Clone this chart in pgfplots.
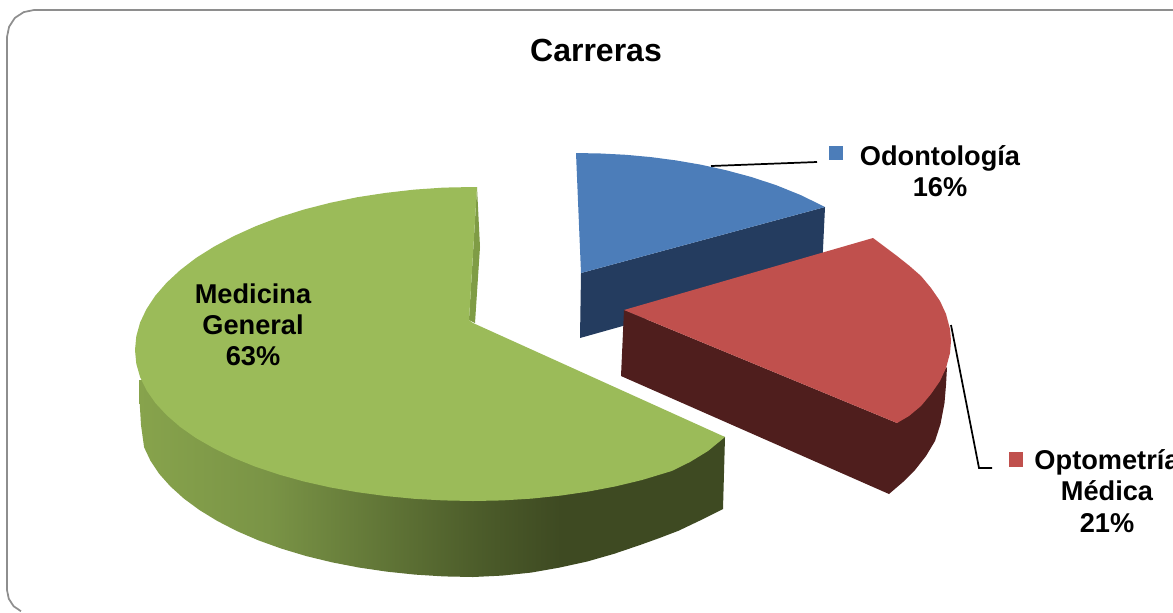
\documentclass[border=0pt]{standalone}
\usepackage{fontspec}
\setmainfont{Liberation Sans}
\usepackage{pgfplots}
\pgfplotsset{compat=1.18}

\definecolor{greentop}{HTML}{9BBB59}
\definecolor{greensliver}{HTML}{7F9C45}
\definecolor{bluetop}{HTML}{4C7DB9}
\definecolor{blueside}{HTML}{243C5F}
\definecolor{redtop}{HTML}{C0504D}
\definecolor{redside}{HTML}{4F1E1D}
\definecolor{frameline}{HTML}{8E8E8E}
\definecolor{gA}{HTML}{87A34C}
\definecolor{gB}{HTML}{7A9446}
\definecolor{gC}{HTML}{5E7235}
\definecolor{gD}{HTML}{4C5C2A}
\definecolor{gE}{HTML}{3E4A22}
\pgfdeclarehorizontalshading{greenside}{100bp}{color(0bp)=(gA); color(25bp)=(gA); color(36bp)=(gB); color(47bp)=(gC); color(54bp)=(gD); color(61bp)=(gE); color(100bp)=(gE)}

\newcommand{\lab}{\fontsize{20.4}{23.4}\selectfont\bfseries}

\begin{document}
\begin{tikzpicture}
\path[use as bounding box] (0,0) rectangle (879.75pt,459pt);
\begin{axis}[
    at={(0,0)}, anchor=south west,
    scale only axis, width=879.75pt, height=459pt,
    xmin=0, xmax=1173, ymin=0, ymax=612, y dir=reverse,
    axis lines=none, no markers, clip=true,
]
% frame
\addplot[draw=frameline, line width=1.3pt, fill=none] coordinates {
    (21,611.2) (13.7,606.3) (8.8,598.8) (7,590) (7,37) (9.1,26.7) (14.9,17.9) (23.7,12.1) (34,10) (1173,10)};

% blue slice
\addplot[draw=none, fill=blueside] coordinates {
    (581,273) (825,207) (822,270) (580,338)};
\addplot[draw=none, fill=bluetop] coordinates {
    (576,153) (601,153.5) (626,154.8) (651,157.1) (676,160.4) (701,164.7) (726,170.2)
    (751,176.9) (776,185.1) (801,195.2) (825,207) (581,273)};

% red slice
\addplot[draw=none, fill=redside] coordinates {
    (624,310) (897,423) (947,367) (946,385) (944.5,403) (940.5,424) (935,441) (926,456)
    (915,470) (903,482) (889,494) (621,376)};
\addplot[draw=none, fill=redtop] coordinates {
    (624,310) (873,238) (885,247) (897,256) (909,265.5) (921,276) (931,288) (940,301)
    (946,314) (950,329) (951,341) (950,353) (946,368) (940,381) (931,394) (921,406)
    (909,416) (897,423)};

% green slice
\addplot[draw=none, shading=greenside] coordinates {
    (139,380) (139.5,400) (141,425) (144.1,447.3) (150.4,460.6) (159.1,473.7) (170.3,486.3)
    (183.8,498.5) (199.4,510) (217.2,520.9) (236.8,531) (258.3,540.3) (281.4,548.6) (306,556)
    (331.9,562.3) (358.8,567.5) (386.6,571.6) (415,574.6) (443.9,576.4) (473,577) (502,575.6)
    (531,572.6) (559.4,567.6) (587.2,561.5) (614.1,553.8) (640,545) (659.5,538) (678.6,530.7)
    (700,520.5) (723,509) (725,437) (473,400)};
\addplot[draw=none, fill=greensliver] coordinates {
    (477,187) (480,247) (475,323) (469,320)};
\addplot[draw=none, fill=greentop] coordinates {
    (477,187) (473,187) (443.5,187.6) (414.3,189.6) (385.5,192.9) (357.4,197.2) (330.2,202.8)
    (304,209.5) (279.1,217.3) (255.7,226.2) (234,236)
    (214.1,246.6) (196.1,257.9) (180.3,270) (166.7,282.6) (155.4,295.6) (146.5,309)
    (140.1,322.5) (136.3,336.3) (135,350) (136.3,363.7) (140.1,377.1) (146.5,390.2)
    (155.4,403) (166.7,415.2) (180.3,427) (196.1,438.1) (214.1,448.4) (234,458)
    (255.7,466.8) (279.1,474.6) (304,481.5) (330.2,487.4) (357.4,492.2) (385.5,496)
    (414.3,498.8) (443.5,500.4) (473,501) (502.5,500.4) (531.7,498.6) (560.5,495.6)
    (588.6,491.5) (615.8,486.3) (642,480) (671.7,471) (690,462) (708,451) (725,437)
    (473,323) (469,320)};

% leader lines
\addplot[draw=black, line width=1.3pt] coordinates {(711,166) (817,162)};
\addplot[draw=black, line width=1.3pt] coordinates {(951,325) (979,468) (992,468)};

% legend keys
\addplot[draw=none, fill=bluetop] coordinates {(829,146) (843,146) (843,160) (829,160)};
\addplot[draw=none, fill=redtop] coordinates {(1009,452) (1023,452) (1023,467) (1009,467)};

\node[font=\fontsize{24}{28}\selectfont\bfseries] at (axis cs:596,50) {Carreras};
\node[font=\lab, align=center] at (axis cs:253,325) {Medicina\\General\\63\%};
\node[font=\lab, align=center] at (axis cs:940,171) {Odontología\\16\%};
\node[font=\lab, align=center] at (axis cs:1107,491) {Optometría\\Médica\\21\%};
\end{axis}
\end{tikzpicture}
\end{document}
